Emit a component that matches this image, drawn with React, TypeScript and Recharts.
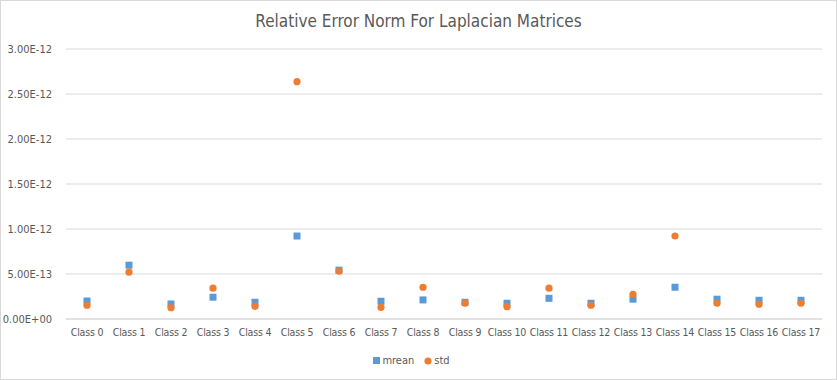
import { CartesianGrid, ComposedChart, Legend, Scatter, XAxis, YAxis } from 'recharts'

const categories = [
  'Class 0', 'Class 1', 'Class 2', 'Class 3', 'Class 4', 'Class 5', 'Class 6', 'Class 7', 'Class 8',
  'Class 9', 'Class 10', 'Class 11', 'Class 12', 'Class 13', 'Class 14', 'Class 15', 'Class 16', 'Class 17',
]

// values in units of 1e-12
const meanValues = [0.2, 0.598, 0.167, 0.242, 0.186, 0.922, 0.543, 0.197, 0.212, 0.186, 0.175, 0.23, 0.175, 0.22, 0.353, 0.22, 0.208, 0.208]
const stdValues = [0.153, 0.52, 0.126, 0.342, 0.141, 2.637, 0.532, 0.13, 0.353, 0.175, 0.137, 0.342, 0.153, 0.275, 0.922, 0.175, 0.164, 0.175]

const yTicks = [0, 0.5e-12, 1e-12, 1.5e-12, 2e-12, 2.5e-12, 3e-12]

const data = categories.map((name, i) => ({
  name,
  mean: meanValues[i] * 1e-12,
  std: stdValues[i] * 1e-12,
}))

const FONT = '"DejaVu Sans Condensed", "Liberation Sans Narrow", "Liberation Sans", sans-serif'
const TEXT = '#595959'
const GRID = '#D9D9D9'
const BLUE = '#5B9BD5'
const ORANGE = '#ED7D31'

function formatSci(v: number) {
  const [m, e] = v.toExponential(2).toUpperCase().split('E')
  const sign = e.startsWith('-') ? '-' : '+'
  const digits = e.replace(/[+-]/, '').padStart(2, '0')
  return `${m}E${sign}${digits}`
}

function SquareMark({ cx, cy }: { cx?: number; cy?: number }) {
  if (cx == null || cy == null) return null
  return <rect x={cx - 3.5} y={cy - 3.5} width={7} height={7} fill={BLUE} />
}

function DotMark({ cx, cy }: { cx?: number; cy?: number }) {
  if (cx == null || cy == null) return null
  return <circle cx={cx} cy={cy} r={3.6} fill={ORANGE} />
}

function LegendContent() {
  return (
    <div style={{ display: 'flex', justifyContent: 'center', alignItems: 'center', paddingTop: 5, fontFamily: FONT, fontSize: 11, color: TEXT }}>
      <svg width={8} height={8} style={{ marginRight: 1 }}>
        <rect x={0} y={0} width={7} height={7} fill={BLUE} />
      </svg>
      <span style={{ marginRight: 10 }}>mrean</span>
      <svg width={8} height={8} style={{ marginRight: 2 }}>
        <circle cx={4} cy={4} r={3.6} fill={ORANGE} />
      </svg>
      <span>std</span>
    </div>
  )
}

export default function App() {
  return (
    <div
      style={{
        position: 'fixed',
        left: 0,
        top: 0,
        width: 837,
        height: 380,
        boxSizing: 'border-box',
        border: `1px solid ${GRID}`,
        background: '#fff',
      }}
    >
      <div
        style={{
          position: 'absolute',
          top: 10,
          left: 0,
          width: '100%',
          textAlign: 'center',
          fontFamily: FONT,
          fontSize: 17,
          color: TEXT,
        }}
      >
        Relative Error Norm For Laplacian Matrices
      </div>
      <ComposedChart
        width={835}
        height={378}
        data={data}
        margin={{ top: 48, right: 14, bottom: 0, left: 0 }}
        style={{ position: 'absolute', left: 0, top: 0 }}
      >
        <CartesianGrid vertical={false} stroke={GRID} />
        <XAxis
          dataKey="name"
          tickLine={false}
          axisLine={{ stroke: GRID }}
          tick={{ fontSize: 10.5, fill: TEXT, fontFamily: FONT, letterSpacing: -0.2 }}
          interval={0}
          height={30}
          tickMargin={4}
          padding={{ left: 21, right: 21 }}
        />
        <YAxis
          domain={[0, 3e-12]}
          ticks={yTicks}
          tickFormatter={formatSci}
          tickLine={false}
          axisLine={false}
          width={65}
          tick={{ fontSize: 11, fill: TEXT, fontFamily: FONT }}
          tickMargin={8}
        />
        <Scatter dataKey="mean" name="mrean" fill={BLUE} shape={<SquareMark />} isAnimationActive={false} />
        <Scatter dataKey="std" name="std" fill={ORANGE} shape={<DotMark />} isAnimationActive={false} />
        <Legend verticalAlign="bottom" height={30} content={<LegendContent />} />
      </ComposedChart>
    </div>
  )
}
